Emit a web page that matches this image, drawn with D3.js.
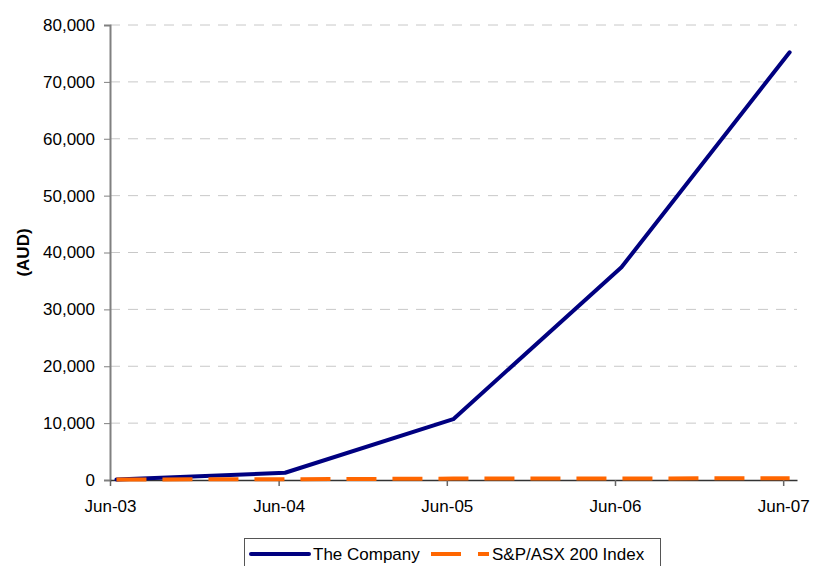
<!DOCTYPE html>
<html>
<head>
<meta charset="utf-8">
<script src="https://cdn.jsdelivr.net/npm/d3@7"></script>
<style>
  body { margin: 0; background: #fff; }
  svg { display: block; font-family: "Liberation Sans", Arial, sans-serif; }
</style>
</head>
<body>
<svg id="chart" width="816" height="566"></svg>
<script>
// ---- data ----
const dates = ["2003-06-15", "2004-06-15", "2005-06-15", "2006-06-15", "2007-06-15"];
const companyValues = [100, 1280, 10700, 37400, 75200];
const indexValues = [100, 125, 250, 280, 300];
const tickDates = ["2003-06-01", "2004-06-01", "2005-06-01", "2006-06-01", "2007-06-01"];
const yTicks = [0, 10000, 20000, 30000, 40000, 50000, 60000, 70000, 80000];
const seriesNames = ["The Company", "S&P/ASX 200 Index"];
const yTitle = "(AUD)";

const parse = d3.timeParse("%Y-%m-%d");
const fmtX = d3.timeFormat("%b-%y");
const fmtY = d3.format(",");

const svg = d3.select("#chart");
const mLeft = 110, mRight = 797, mTop = 25, mBottom = 480;

const x = d3.scaleTime()
  .domain([parse("2003-06-01"), parse("2007-07-01")])
  .range([mLeft, mRight]);
const y = d3.scaleLinear().domain([0, 80000]).range([mBottom, mTop]);

// gridlines
svg.append("g").selectAll("line")
  .data(yTicks.filter(d => d > 0))
  .join("line")
  .attr("x1", mLeft).attr("x2", mRight)
  .attr("y1", d => y(d)).attr("y2", d => y(d))
  .attr("stroke", "#c8c8c8").attr("stroke-width", 1)
  .attr("stroke-dasharray", "10,8");

// y axis
const yAxis = svg.append("g")
  .attr("transform", `translate(${mLeft},0)`)
  .call(d3.axisLeft(y).tickValues(yTicks).tickFormat(fmtY).tickSize(6).tickPadding(9));
yAxis.select(".domain").attr("stroke", "#808080").attr("stroke-width", 2);
yAxis.selectAll(".tick line").attr("stroke", "#808080");
yAxis.selectAll("text").attr("font-size", 17).attr("fill", "#000")
  .attr("font-family", "Liberation Sans, Arial, sans-serif");

// x axis
const xAxis = svg.append("g")
  .attr("transform", `translate(0,${mBottom})`)
  .call(d3.axisBottom(x).tickValues(tickDates.map(parse)).tickFormat(fmtX).tickSizeInner(6).tickSizeOuter(0).tickPadding(14));
xAxis.select(".domain").attr("stroke", "#333").attr("stroke-width", 1.5);
xAxis.selectAll(".tick line").attr("stroke", "#666").attr("stroke-width", 1.5);
xAxis.selectAll("text").attr("font-size", 17).attr("fill", "#000")
  .attr("font-family", "Liberation Sans, Arial, sans-serif");

// y title
svg.append("text")
  .attr("transform", `translate(29,${(mTop + mBottom) / 2}) rotate(-90)`)
  .attr("text-anchor", "middle")
  .attr("font-size", 17).attr("font-weight", "bold")
  .text(yTitle);

const line = d3.line().x(d => x(parse(d[0]))).y(d => y(d[1]));

// company series
svg.append("path")
  .datum(dates.map((d, i) => [d, companyValues[i]]))
  .attr("d", line)
  .attr("fill", "none").attr("stroke", "#000080").attr("stroke-width", 4)
  .attr("stroke-linejoin", "round").attr("stroke-linecap", "round");

// index series (dashed orange, drawn on top)
svg.append("path")
  .datum(dates.map((d, i) => [d, indexValues[i]]))
  .attr("d", line)
  .attr("fill", "none").attr("stroke", "#ff6600").attr("stroke-width", 4)
  .attr("stroke-dasharray", "30,16");

// legend
const lg = svg.append("g");
lg.append("rect").attr("x", 244.5).attr("y", 538.5).attr("width", 416).attr("height", 40)
  .attr("fill", "#fff").attr("stroke", "#555").attr("stroke-width", 1);
lg.append("line").attr("x1", 251).attr("x2", 309).attr("y1", 554).attr("y2", 554)
  .attr("stroke", "#000080").attr("stroke-width", 4).attr("stroke-linecap", "round");
lg.append("text").attr("x", 313).attr("y", 560).attr("font-size", 17).text(seriesNames[0]);
lg.append("line").attr("x1", 431).attr("x2", 489).attr("y1", 554).attr("y2", 554)
  .attr("stroke", "#ff6600").attr("stroke-width", 4).attr("stroke-dasharray", "30,17");
lg.append("text").attr("x", 492).attr("y", 560).attr("font-size", 17).text(seriesNames[1]);
</script>
</body>
</html>
